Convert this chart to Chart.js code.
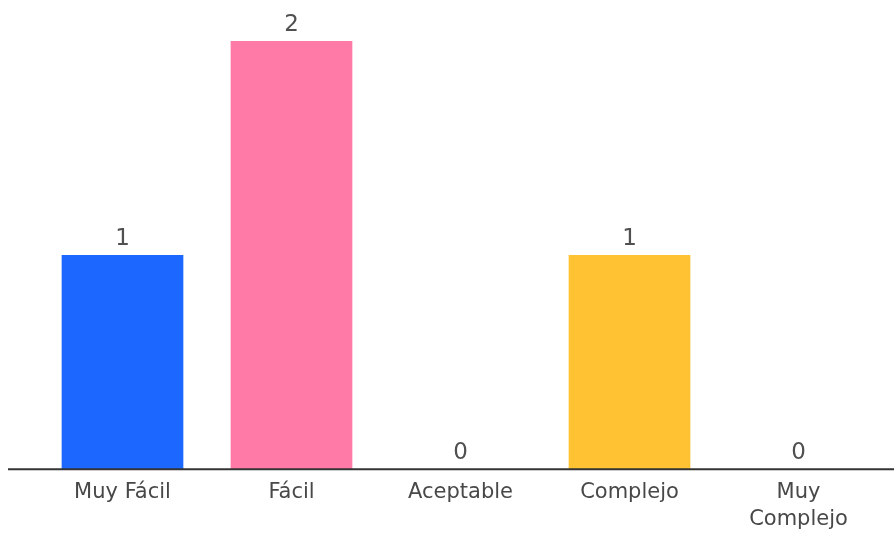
<!DOCTYPE html>
<html>
<head>
<meta charset="utf-8">
<script src="https://cdn.jsdelivr.net/npm/chart.js@4.4.1/dist/chart.umd.min.js"></script>
<style>
  html, body { margin: 0; padding: 0; background: #fff; }
  #wrap { width: 894px; height: 533px; }
</style>
</head>
<body>
<div id="wrap"><canvas id="chart"></canvas></div>
<script>
const categories = ["Muy Fácil", "Fácil", "Aceptable", "Complejo", ["Muy", "Complejo"]];
const counts = [1, 2, 0, 1, 0];
const barColors = ["#1c67ff", "#ff7aa6", "#cccccc", "#ffc233", "#cccccc"];

// draws the numbers above bars and the long base line
const valueLabels = {
    id: "valueLabels",
    afterDatasetsDraw(chart) {
        const ctx = chart.ctx;
        const meta = chart.getDatasetMeta(0);
        ctx.save();
        ctx.fillStyle = "#505050";
        ctx.font = "23px 'DejaVu Sans'";
        ctx.textAlign = "center";
        ctx.textBaseline = "alphabetic";
        meta.data.forEach((bar, i) => {
            ctx.fillText(counts[i], bar.x, bar.y - 10);
        });
        const yBase = chart.scales.y.getPixelForValue(0);
        ctx.strokeStyle = "#333";
        ctx.lineWidth = 2;
        ctx.beginPath();
        ctx.moveTo(8, yBase);
        ctx.lineTo(chart.width, yBase);
        ctx.stroke();
        ctx.restore();
    }
};

new Chart(document.getElementById("chart"), {
    type: "bar",
    data: {
        labels: categories,
        datasets: [{
            data: counts,
            backgroundColor: barColors,
            borderWidth: 0,
            categoryPercentage: 1,
            barPercentage: 0.72
        }]
    },
    options: {
        responsive: true,
        maintainAspectRatio: false,
        animation: false,
        layout: { padding: { left: 38, right: 11, top: 41, bottom: -10 } },
        plugins: {
            legend: { display: false },
            tooltip: { enabled: false }
        },
        scales: {
            x: {
                grid: { display: false, drawTicks: false, tickLength: 0 },
                border: { display: false },
                ticks: {
                    color: "#484848",
                    padding: 10,
                    maxRotation: 0,
                    font: { family: "'DejaVu Sans'", size: 21, lineHeight: 1.28 }
                }
            },
            y: {
                display: false,
                min: 0,
                max: 2
            }
        }
    },
    plugins: [valueLabels]
});
</script>
</body>
</html>
